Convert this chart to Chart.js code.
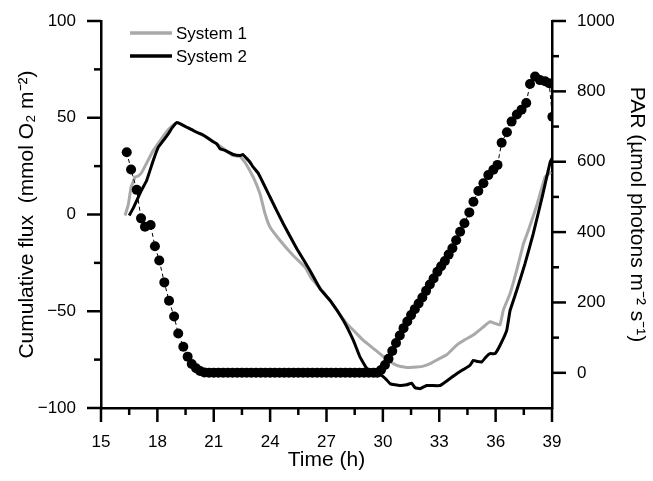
<!DOCTYPE html>
<html>
<head>
<meta charset="utf-8">
<title>Cumulative flux and PAR</title>
<script src="https://cdn.jsdelivr.net/npm/chart.js@4/dist/chart.umd.min.js"></script>
<style>
    html, body { margin: 0; padding: 0; background: #fff; }
    #wrap { width: 653px; height: 481px; }
</style>
</head>
<body>
<div id="wrap"><canvas id="fluxChart"></canvas></div>
<script>
// System 1 cumulative O2 flux (mmol O2 m-2) vs time (h)
const s1Time = [16.28, 16.45, 16.6, 16.81, 17.0, 17.17, 17.45, 17.78, 18.1, 18.4, 18.7, 19.03, 19.3, 19.6, 20.1, 20.6,
    21.16, 21.6, 22.0, 22.4, 22.66, 23.1, 23.46, 23.73, 24.0, 24.53, 25.23, 25.86, 26.21, 26.7, 27.2, 27.7, 28.08,
    28.5, 28.96, 29.4, 29.85, 30.3, 30.74, 31.2, 31.62, 32.1, 32.51, 33.0, 33.4, 33.93, 34.4, 34.81, 35.3, 35.7,
    35.97, 36.23, 36.41, 36.77, 37.12, 37.48, 37.74, 38.2, 38.63, 38.95];
const s1Flux = [-0.5, 5, 14, 19.3, 20, 21.8, 27, 33, 37.5, 41.7, 45, 47.5, 46.5, 45, 42.5, 40,
    36.5, 33.5, 30.5, 30, 27, 19.3, 10.7, 0.4, -6.6, -13.4, -21.2, -27.2, -33.2, -38.6, -44.6, -51.5, -56.4,
    -60.5, -65.1, -68.5, -72, -75.5, -78, -79, -78.9, -78.5, -77.1, -74.5, -72.5, -67.5, -64.5, -62.3, -58.5, -55.4,
    -56.3, -57.1, -49.4, -40.8, -28.9, -15.2, -8.3, 5, 19.3, 22];

// System 2 cumulative O2 flux
const s2Time = [16.5, 16.7, 16.9, 17.15, 17.43, 17.78, 18.05, 18.3, 18.58, 18.8, 19.03, 19.3, 19.56, 19.8, 20.09,
    20.35, 20.62, 20.9, 21.16, 21.33, 21.6, 22.04, 22.4, 22.55, 22.75, 22.93, 23.1, 23.37, 24.0, 24.7, 25.42, 26.12,
    26.66, 27.19, 27.9, 28.43, 28.78, 29.14, 29.5, 29.85, 30.1, 30.4, 30.9, 31.27, 31.53, 31.71, 31.98, 32.33, 33.04,
    33.4, 33.93, 34.3, 34.64, 34.81, 35.05, 35.26, 35.5, 35.7, 35.97, 36.23, 36.59, 36.77, 37.12, 37.56, 38.0, 38.5,
    38.9, 39.0];
const s2Flux = [-0.5, 3, 7.2, 12.5, 17.6, 27.9, 34.8, 38, 41.7, 45, 47.5, 46.5, 45.1, 44, 42.5,
    41.5, 39.9, 38, 36.5, 34, 33.1, 31, 30.5, 31, 29, 27, 24.5, 21.3, 8.9, -4.8, -17.7, -28.9,
    -38.4, -44.4, -54.8, -65.1, -73.6, -79.5, -81.5, -82.5, -84.5, -87.5, -88.4, -88, -87.2, -89.5, -90, -88.4, -88.4,
    -86, -82.3, -80, -77.9, -75.4, -76, -76.2, -73.5, -71.9, -71.9, -67.7, -59.9, -49.6, -39.3, -25.5, -10, 10,
    27, 29];

// PAR (umol photons m-2 s-1), right axis
const parTime = [16.37, 16.6, 16.9, 17.13, 17.34, 17.64, 17.87, 18.1, 18.37, 18.62, 18.89, 19.11, 19.38, 19.61,
    19.83, 20.06, 20.27, 20.5, 20.75, 21.0, 21.25, 21.5, 21.75, 22.0, 22.25, 22.5, 22.75, 23.0, 23.25, 23.5, 23.75,
    24.0, 24.25, 24.5, 24.75, 25.0, 25.25, 25.5, 25.75, 26.0, 26.25, 26.5, 26.75, 27.0, 27.25, 27.5, 27.75, 28.0,
    28.25, 28.5, 28.75, 29.0, 29.25, 29.5, 29.7, 29.9, 30.11, 30.3, 30.5, 30.7, 30.9, 31.1, 31.3, 31.5, 31.7, 31.9,
    32.1, 32.3, 32.5, 32.7, 32.9, 33.1, 33.3, 33.5, 33.7, 33.9, 34.11, 34.34, 34.6, 34.82, 35.08, 35.35, 35.61,
    35.88, 36.1, 36.32, 36.6, 36.85, 37.13, 37.38, 37.63, 37.83, 38.1, 38.36, 38.63, 38.85, 39.02];
const parValue = [627, 578, 520, 439, 415, 420, 360, 319, 257, 205, 160, 112, 74, 46,
    25, 13, 5, 1, 0, 0, 0, 0, 0, 0, 0, 0, 0, 0, 0, 0, 0,
    0, 0, 0, 0, 0, 0, 0, 0, 0, 0, 0, 0, 0, 0, 0, 0, 0,
    0, 0, 0, 0, 0, 0, 0, 8, 22, 40, 62, 85, 106, 127, 146, 164, 181, 197,
    214, 233, 251, 268, 287, 303, 318, 336, 354, 377, 401, 425, 456, 486, 517, 539, 562,
    577, 591, 654, 684, 714, 734, 748, 767, 821, 842, 832, 829, 823, 728];

const xTicks = [15, 18, 21, 24, 27, 30, 33, 36, 39];
const fluxTicks = [-100, -50, 0, 50, 100];
const parTicks = [0, 200, 400, 600, 800, 1000];

function toPoints(xs, ys) {
    return xs.map((x, i) => ({ x: x, y: ys[i] }));
}

const FONT = 'Liberation Sans, Arial, Helvetica, sans-serif';
const AXIS_W = 2.5;

// fixed axis box sizes; drop the label padding chart.js adds above/below
function fixWidth(s) {
    s.width = 101;
    s.paddingTop = 0;
    s.paddingBottom = 0;
}

// outward tick marks, long on labelled values, short half-way between
const tickMarks = {
    id: 'tickMarks',
    afterDraw(chart) {
        const ctx = chart.ctx;
        const area = chart.chartArea;
        ctx.save();
        ctx.strokeStyle = '#000';
        ctx.lineWidth = AXIS_W;
        ctx.lineCap = 'butt';
        function marks(scale, values, step, side) {
            values.forEach((v, i) => {
                const list = [[v, 14]];
                if (i < values.length - 1) list.push([v + step / 2, 7]);
                list.forEach(([val, len]) => {
                    const p = scale.getPixelForValue(val);
                    ctx.beginPath();
                    if (side === 'bottom') { ctx.moveTo(p, area.bottom); ctx.lineTo(p, area.bottom + len); }
                    if (side === 'left') { ctx.moveTo(area.left, p); ctx.lineTo(area.left - len, p); }
                    if (side === 'right') { ctx.moveTo(area.right, p); ctx.lineTo(area.right + len, p); }
                    ctx.stroke();
                });
            });
        }
        marks(chart.scales.x, xTicks, 3, 'bottom');
        marks(chart.scales.y, fluxTicks, 50, 'left');
        marks(chart.scales.y2, parTicks, 200, 'right');
        ctx.restore();
    }
};

// legend drawn in the top-left corner of the plot
const cornerLegend = {
    id: 'cornerLegend',
    afterDraw(chart) {
        const ctx = chart.ctx;
        const area = chart.chartArea;
        const items = chart.data.datasets.filter(d => d.inLegend);
        ctx.save();
        ctx.font = '17px ' + FONT;
        ctx.textBaseline = 'middle';
        ctx.fillStyle = '#000';
        items.forEach((d, i) => {
            const y = area.top + 12 + i * 23;
            ctx.strokeStyle = d.borderColor;
            ctx.lineWidth = 3.5;
            ctx.beginPath();
            ctx.moveTo(area.left + 29, y);
            ctx.lineTo(area.left + 71, y);
            ctx.stroke();
            ctx.fillText(d.label, area.left + 75, y + 1);
        });
        ctx.restore();
    }
};

const ctx = document.getElementById('fluxChart');

new Chart(ctx, {
    type: 'line',
    data: {
        datasets: [{
            label: 'PAR',
            data: toPoints(parTime, parValue),
            yAxisID: 'y2',
            order: 0,
            borderColor: '#000',
            borderWidth: 1,
            borderDash: [4, 3],
            pointRadius: 5,
            pointBackgroundColor: '#000',
            pointBorderColor: '#000',
            pointBorderWidth: 0,
            tension: 0
        }, {
            label: 'System 1',
            inLegend: true,
            data: toPoints(s1Time, s1Flux),
            yAxisID: 'y',
            order: 2,
            borderColor: '#a9a9a9',
            borderWidth: 3,
            pointRadius: 0,
            tension: 0.1
        }, {
            label: 'System 2',
            inLegend: true,
            data: toPoints(s2Time, s2Flux),
            yAxisID: 'y',
            order: 1,
            borderColor: '#000',
            borderWidth: 3,
            pointRadius: 0,
            tension: 0.1
        }]
    },
    options: {
        responsive: true,
        maintainAspectRatio: false,
        animation: false,
        layout: { autoPadding: false, padding: { top: 21, left: 0, right: 0, bottom: 0 } },
        plugins: {
            legend: { display: false },
            tooltip: { enabled: false }
        },
        scales: {
            x: {
                type: 'linear',
                min: 15,
                max: 39,
                afterBuildTicks: s => { s.ticks = xTicks.map(v => ({ value: v })); },
                afterFit: s => { s.height = 73; },
                border: { display: true, color: '#000', width: AXIS_W },
                grid: { display: false, drawTicks: false },
                ticks: { padding: 24, color: '#000', font: { family: FONT, size: 17 } },
                title: {
                    display: true,
                    text: 'Time (h)',
                    color: '#000',
                    font: { family: FONT, size: 21 },
                    padding: { top: 0, bottom: 8 }
                }
            },
            y: {
                position: 'left',
                min: -100,
                max: 100,
                afterBuildTicks: s => { s.ticks = fluxTicks.map(v => ({ value: v })); },
                afterFit: fixWidth,
                border: { display: true, color: '#000', width: AXIS_W },
                grid: { display: false, drawTicks: false },
                ticks: {
                    padding: 25,
                    color: '#000',
                    font: { family: FONT, size: 17 },
                    callback: v => (v < 0 ? '\u2212' + Math.abs(v) : String(v))
                },
                title: {
                    display: true,
                    text: 'Cumulative flux  (mmol O\u2082 m\u207B\u00B2)',
                    color: '#000',
                    font: { family: FONT, size: 21 },
                    padding: { top: 15, bottom: 0 }
                }
            },
            y2: {
                position: 'right',
                min: -100,
                max: 1000,
                afterBuildTicks: s => { s.ticks = parTicks.map(v => ({ value: v })); },
                afterFit: fixWidth,
                border: { display: true, color: '#000', width: AXIS_W },
                grid: { display: false, drawTicks: false },
                ticks: {
                    padding: 25,
                    color: '#000',
                    font: { family: FONT, size: 17 },
                    callback: v => String(v)
                },
                title: {
                    display: true,
                    text: 'PAR (\u00B5mol photons m\u207B\u00B2 s\u207B\u00B9)',
                    color: '#000',
                    font: { family: FONT, size: 21 },
                    padding: { top: 4, bottom: 0 }
                }
            }
        }
    },
    plugins: [tickMarks, cornerLegend]
});
</script>
</body>
</html>
